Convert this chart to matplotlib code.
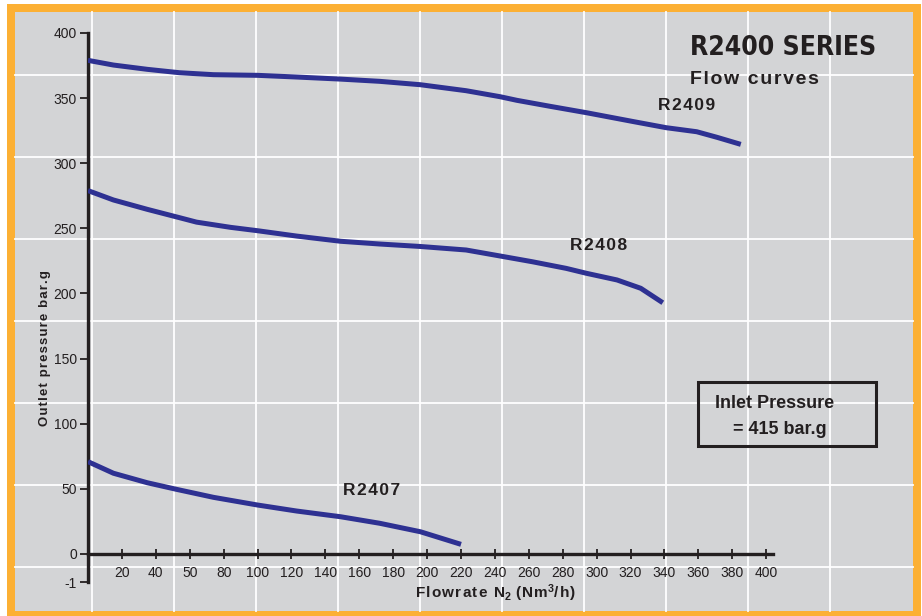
#!/usr/bin/env python3

import matplotlib
matplotlib.use("Agg")
import matplotlib.pyplot as plt
from matplotlib.patches import Rectangle
from matplotlib.lines import Line2D

# flowrate (Nm3/h) / outlet pressure (bar.g)
r2409_x = [0, 15, 35, 54, 74, 100, 123, 149, 172, 196, 223, 243, 253, 273, 294, 322, 341, 359, 371, 385]
r2409_y = [379, 375.4, 372.1, 369.5, 368.0, 367.5, 366.2, 364.6, 362.9, 360.3, 355.7, 351.1, 348.3, 343.6, 338.8, 331.9, 327.3, 324.2, 319.9, 314.5]

r2408_x = [0, 15, 35, 54, 64, 84, 100, 123, 149, 172, 196, 223, 243, 262, 282, 294, 312, 326, 339]
r2408_y = [279, 271.8, 264.6, 258.2, 254.8, 250.8, 248.2, 244.1, 240.1, 238.0, 236.1, 233.4, 228.8, 224.4, 219.3, 215.5, 210.4, 204.0, 192.9]

r2407_x = [0, 15, 35, 52, 74, 100, 123, 149, 172, 196, 220]
r2407_y = [70.9, 62.0, 54.7, 49.7, 43.5, 37.6, 33.0, 28.6, 23.6, 17.1, 7.4]

x_ticks = [20, 40, 60, 80, 100, 120, 140, 160, 180, 200, 220, 240, 260, 280, 300, 320, 340, 360, 380, 400]
x_labels = ["20", "40", "50", "80", "100", "120", "140", "160", "180", "200", "220", "240",
            "260", "280", "300", "320", "340", "360", "380", "400"]
y_ticks = [-21.5, 0, 50, 100, 150, 200, 250, 300, 350, 400]
y_labels = ["-1", "0", "50", "100", "150", "200", "250", "300", "350", "400"]

BLUE = "#2e3192"
GRAY = "#d3d4d6"
ORANGE = "#fcb034"
INK = "#231f20"
SANS = ["Liberation Sans", "DejaVu Sans"]

plt.rcParams["mathtext.default"] = "regular"

W, H = 922, 616


def fx(px):
    return px / W


def fy(py):
    return 1 - py / H


def track(s):
    # letter-spaced text, as in the original artwork
    return "\u200a".join(s)


def main():
    fig = plt.figure(figsize=(9.22, 6.16), dpi=100, facecolor="white")

    # frame and background grid
    fig.add_artist(Rectangle((fx(7), fy(620)), fx(914), 616 / H, transform=fig.transFigure,
                             facecolor=ORANGE, edgecolor="none", zorder=-3))
    fig.add_artist(Rectangle((fx(15), fy(611)), fx(898), 599 / H, transform=fig.transFigure,
                             facecolor=GRAY, edgecolor="none", zorder=-2))
    for k in range(10):
        px = 92 + 82 * k
        fig.add_artist(Line2D([fx(px), fx(px)], [fy(12), fy(611)], transform=fig.transFigure,
                              color="white", lw=1.3, zorder=-1))
    for k in range(7):
        py = 75 + 82 * k
        fig.add_artist(Line2D([fx(15), fx(913)], [fy(py), fy(py)], transform=fig.transFigure,
                              color="white", lw=1.3, zorder=-1))

    ax = fig.add_axes([fx(88), fy(582), fx(773 - 88), (582 - 33) / H])
    ax.patch.set_visible(False)

    for xs, ys in [(r2409_x, r2409_y), (r2408_x, r2408_y), (r2407_x, r2407_y)]:
        ax.plot(xs, ys, color=BLUE, lw=3.6, solid_capstyle="butt", zorder=3)

    ax.set_xlim(0, 404)
    ax.set_ylim(-21.5, 400)

    ax.spines["top"].set_visible(False)
    ax.spines["right"].set_visible(False)
    ax.spines["left"].set_linewidth(2.4)
    ax.spines["left"].set_color(INK)
    ax.spines["bottom"].set_position(("data", 0))
    ax.spines["bottom"].set_linewidth(2.4)
    ax.spines["bottom"].set_color(INK)

    ax.set_xticks(x_ticks)
    ax.set_xticklabels(x_labels, family=SANS, fontsize=10, color=INK)
    ax.set_yticks(y_ticks)
    ax.set_yticklabels(y_labels, family=SANS, fontsize=10, color=INK)
    ax.tick_params(axis="x", direction="inout", length=7, width=1.3, color=INK, pad=5)
    ax.tick_params(axis="y", direction="out", length=6, width=1.3, color=INK, pad=2)

    for x, y, name in [(353, 344.7, "R2409"), (301, 237, "R2408"), (167, 48.4, "R2407")]:
        ax.text(x, y, track(name), family=SANS, weight="bold", fontsize=12.5,
                ha="center", va="center", color=INK)

    fig.text(fx(690), fy(48), "R2400 SERIES", family="DejaVu Sans", stretch="condensed",
             weight="bold", fontsize=19, ha="left", va="center", color=INK)
    fig.text(fx(690), fy(80), track("Flow curves"), family=SANS, weight="bold", fontsize=14,
             ha="left", va="center", color=INK)

    fig.text(fx(496), fy(593), track("Flowrate N") + r"$_2$ " + track("(Nm") + r"$^3$" + track("/h)"),
             family=SANS, weight="bold", fontsize=11, ha="center", va="center", color=INK)
    fig.text(fx(45), fy(348), track("Outlet pressure bar.g"), family=SANS, weight="bold",
             fontsize=9.5, rotation=90, ha="center", va="center", color=INK)

    # inlet pressure box
    fig.add_artist(Rectangle((fx(698), fy(446)), fx(876 - 698), (446 - 382) / H,
                             transform=fig.transFigure, facecolor="none",
                             edgecolor=INK, lw=2.2))
    fig.text(fx(775), fy(404), "Inlet Pressure", family=SANS, weight="bold", fontsize=13,
             ha="center", va="center", color=INK)
    fig.text(fx(780), fy(429), "= 415 bar.g", family=SANS, weight="bold", fontsize=13,
             ha="center", va="center", color=INK)

    fig.savefig("out.png", dpi=100, facecolor="white")


if __name__ == "__main__":
    main()
